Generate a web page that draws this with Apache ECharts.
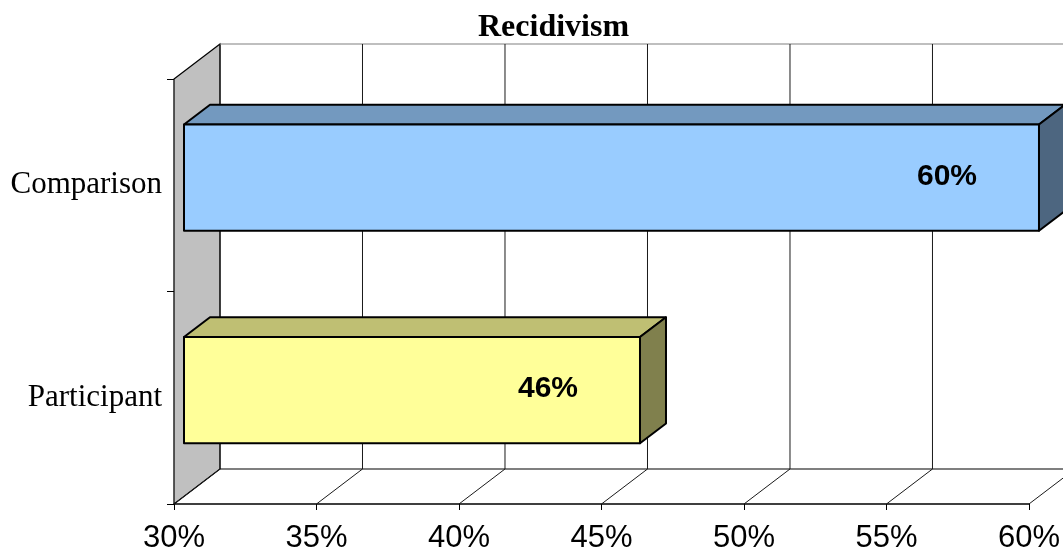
<!DOCTYPE html>
<html>
<head>
<meta charset="utf-8">
<title>Recidivism</title>
<script src="https://cdn.jsdelivr.net/npm/echarts@6/dist/echarts.min.js"></script>
<style>
  html, body { margin: 0; padding: 0; background: #fff; }
  #chart { width: 1063px; height: 555px; }
</style>
</head>
<body>
<div id="chart"></div>
<script>
// Chart data
const categories = ['Comparison', 'Participant'];
const recidivism = [60, 46];          // percent
const axisTicks = [30, 35, 40, 45, 50, 55, 60];
const chartTitle = 'Recidivism';

// Pseudo-3D look: depth offset of the back wall and the bar slab position inside it
const DEPTH_X = 46, DEPTH_Y = -35;
const BAR_FRONT = 10 / 46, BAR_BACK = 36 / 46;
const faceColors = {
  Comparison:  { front: '#99CCFF', top: '#7399BF', side: '#4D6680' },
  Participant: { front: '#FFFF99', top: '#BFBF73', side: '#80804D' }
};

const chart = echarts.init(document.getElementById('chart'), null, { renderer: 'canvas' });

// Back wall gridlines, floor lines and the grey side wall
function renderFrame(params, api) {
  const cs = params.coordSys;
  const top = cs.y, bottom = cs.y + cs.height;
  const x = api.coord([api.value(0), 0])[0];
  const lineStyle = { stroke: '#1a1a1a', lineWidth: 1 };
  const children = [
    { type: 'line', shape: { x1: x + DEPTH_X, y1: top + DEPTH_Y, x2: x + DEPTH_X, y2: bottom + DEPTH_Y }, style: lineStyle },
    { type: 'line', shape: { x1: x, y1: bottom, x2: x + DEPTH_X, y2: bottom + DEPTH_Y }, style: lineStyle }
  ];
  if (params.dataIndex === 0) {
    const right = cs.x + cs.width + DEPTH_X;
    children.unshift({
      type: 'polygon',
      shape: { points: [[x, top], [x + DEPTH_X, top + DEPTH_Y], [x + DEPTH_X, bottom + DEPTH_Y], [x, bottom]] },
      style: { fill: '#C0C0C0', stroke: '#000', lineWidth: 1.2 }
    });
    children.push(
      { type: 'line', shape: { x1: x + DEPTH_X, y1: top + DEPTH_Y, x2: right, y2: top + DEPTH_Y }, style: { stroke: '#808080', lineWidth: 1.2 } },
      { type: 'line', shape: { x1: x + DEPTH_X, y1: bottom + DEPTH_Y, x2: right, y2: bottom + DEPTH_Y }, style: { stroke: '#000', lineWidth: 1.2 } }
    );
  }
  return { type: 'group', children };
}

// 3D box bars with their value labels
function renderBar(params, api) {
  const val = api.value(0);
  const cat = api.value(1);
  const colors = faceColors[categories[cat]];
  const start = api.coord([axisTicks[0], cat]);
  const end = api.coord([val, cat]);
  const barH = api.size([0, 1])[1] * 0.5;
  const fx = DEPTH_X * BAR_FRONT, fy = DEPTH_Y * BAR_FRONT;
  const dx = DEPTH_X * (BAR_BACK - BAR_FRONT), dy = DEPTH_Y * (BAR_BACK - BAR_FRONT);
  const x0 = start[0] + fx, x1 = end[0] + fx;
  const yc = end[1] + fy;
  const y0 = yc - barH / 2, y1 = yc + barH / 2;
  const edge = { stroke: '#000', lineWidth: 2, lineJoin: 'round' };
  return {
    type: 'group',
    children: [
      { type: 'polygon', shape: { points: [[x0, y0], [x1, y0], [x1 + dx, y0 + dy], [x0 + dx, y0 + dy]] },
        style: Object.assign({ fill: colors.top }, edge) },
      { type: 'polygon', shape: { points: [[x1, y0], [x1 + dx, y0 + dy], [x1 + dx, y1 + dy], [x1, y1]] },
        style: Object.assign({ fill: colors.side }, edge) },
      { type: 'rect', shape: { x: x0, y: y0, width: x1 - x0, height: y1 - y0 },
        style: Object.assign({ fill: colors.front }, edge) },
      { type: 'text', x: x1 - 92, y: yc - 1,
        style: { text: val + '%', fill: '#000', font: 'bold 30px "Liberation Sans", Arial, sans-serif',
                 textAlign: 'center', textVerticalAlign: 'middle' } }
    ]
  };
}

chart.setOption({
  animation: false,
  backgroundColor: '#fff',
  title: {
    text: chartTitle,
    left: 473,
    top: 7,
    textStyle: { fontFamily: '"Liberation Serif", "Times New Roman", serif', fontWeight: 'bold', fontSize: 32, color: '#000' }
  },
  grid: { left: 174, right: 33, top: 79, bottom: 51, containLabel: false },
  xAxis: {
    type: 'value',
    min: axisTicks[0],
    max: axisTicks[axisTicks.length - 1],
    interval: 5,
    axisLine: { show: true, lineStyle: { color: '#000', width: 1.5 } },
    axisTick: { show: true, length: 6, lineStyle: { color: '#000', width: 1 } },
    splitLine: { show: false },
    axisLabel: {
      formatter: '{value}%',
      margin: 19,
      color: '#000',
      fontFamily: '"Liberation Sans", Arial, sans-serif',
      fontSize: 31
    }
  },
  yAxis: {
    type: 'category',
    data: categories,
    inverse: true,
    axisLine: { show: true, lineStyle: { color: '#000', width: 1.2 } },
    axisTick: { show: true, length: 7, lineStyle: { color: '#000', width: 1 } },
    axisLabel: {
      margin: 12,
      padding: [5, 0, 0, 0],
      color: '#000',
      fontFamily: '"Liberation Serif", "Times New Roman", serif',
      fontSize: 31
    }
  },
  series: [
    {
      type: 'custom',
      name: 'frame',
      clip: false,
      silent: true,
      renderItem: renderFrame,
      encode: { x: 0 },
      data: axisTicks.map(v => [v])
    },
    {
      type: 'custom',
      name: 'Recidivism',
      clip: false,
      renderItem: renderBar,
      encode: { x: 0, y: 1 },
      data: recidivism.map((v, i) => [v, i])
    }
  ]
});
</script>
</body>
</html>
